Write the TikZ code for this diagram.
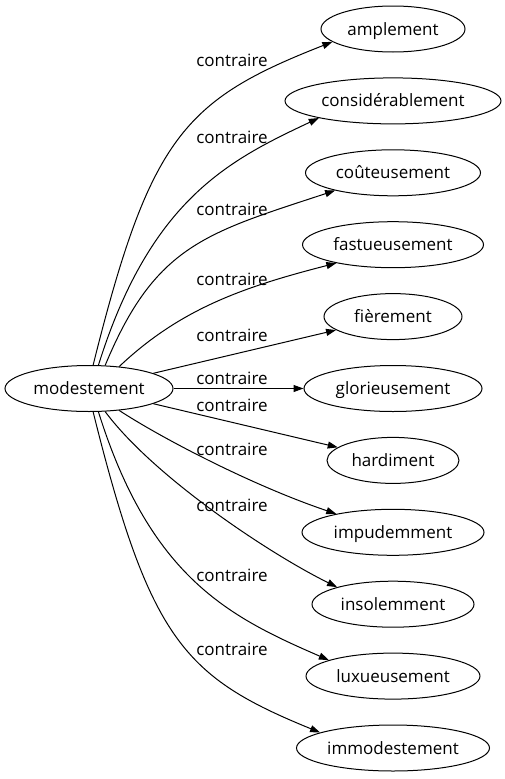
\documentclass[tikz,border=0pt]{standalone}
\usepackage{fontspec}
\setmainfont{Open Sans}
\usetikzlibrary{arrows.meta,shapes.geometric}
\begin{document}
\begin{tikzpicture}[x=1pt,y=-1pt,
  every node/.style={font=\fontsize{17}{20}\selectfont},
  word/.style={ellipse,draw,line width=1pt,inner sep=0pt,minimum height=46pt,text height=12pt,text depth=0pt},
  lbl/.style={anchor=base,inner sep=0pt},
  rel/.style={line width=1pt,-{Triangle[length=10pt,width=7pt]}}]
\useasboundingbox (0,0) rectangle (505,779);
\node[word,minimum width=168pt] (src) at (89,388.5) {modestement};
\node[word,minimum width=144pt] (n1) at (393,29) {amplement};
\node[word,minimum width=216pt] (n2) at (393,100.9) {considérablement};
\node[word,minimum width=175pt] (n3) at (393,172.8) {coûteusement};
\node[word,minimum width=181pt] (n4) at (393,244.7) {fastueusement};
\node[word,minimum width=138pt] (n5) at (393,316.6) {fièrement};
\node[word,minimum width=178pt] (n6) at (393,388.5) {glorieusement};
\node[word,minimum width=132pt] (n7) at (393,460.4) {hardiment};
\node[word,minimum width=182pt] (n8) at (393,532.3) {impudemment};
\node[word,minimum width=162pt] (n9) at (393,604.2) {insolemment};
\node[word,minimum width=174pt] (n10) at (393,676.1) {luxueusement};
\node[word,minimum width=193pt] (n11) at (393,748) {immodestement};
\node[lbl] (l1) at (232,66.7) {contraire};
\node[lbl] (l2) at (232,143.3) {contraire};
\node[lbl] (l3) at (232,215) {contraire};
\node[lbl] (l4) at (232,285) {contraire};
\node[lbl] (l5) at (232,341) {contraire};
\node[lbl] (l6) at (232,384) {contraire};
\node[lbl] (l7) at (232,411.7) {contraire};
\node[lbl] (l8) at (232,455) {contraire};
\node[lbl] (l9) at (232,511.7) {contraire};
\node[lbl] (l10) at (232,581) {contraire};
\node[lbl] (l11) at (232,655) {contraire};
\draw[rel] (src.80) .. controls (150,137) and (184,100) .. (n1.192);
\draw[rel] (src.68) .. controls (150.5,199) and (229.5,160) .. (n2.193.5);
\draw[rel] (src.55) .. controls (155,245) and (206,233) .. (n3.197.5);
\draw[rel] (src.36) .. controls (180,309) and (243,287) .. (n4.198.4);
\draw[rel] (src) -- (n5);
\draw[rel] (src) -- (n6);
\draw[rel] (src) -- (n7);
\draw[rel] (src.324) .. controls (163,439) and (253.5,486) .. (n8.162.5);
\draw[rel] (src.305) .. controls (153,476) and (268,553) .. (n9.163.9);
\draw[rel] (src.292) .. controls (150.5,578) and (229.5,617) .. (n10.166.5);
\draw[rel] (src.280) .. controls (150,640) and (184,677) .. (n11.168);
\end{tikzpicture}
\end{document}
